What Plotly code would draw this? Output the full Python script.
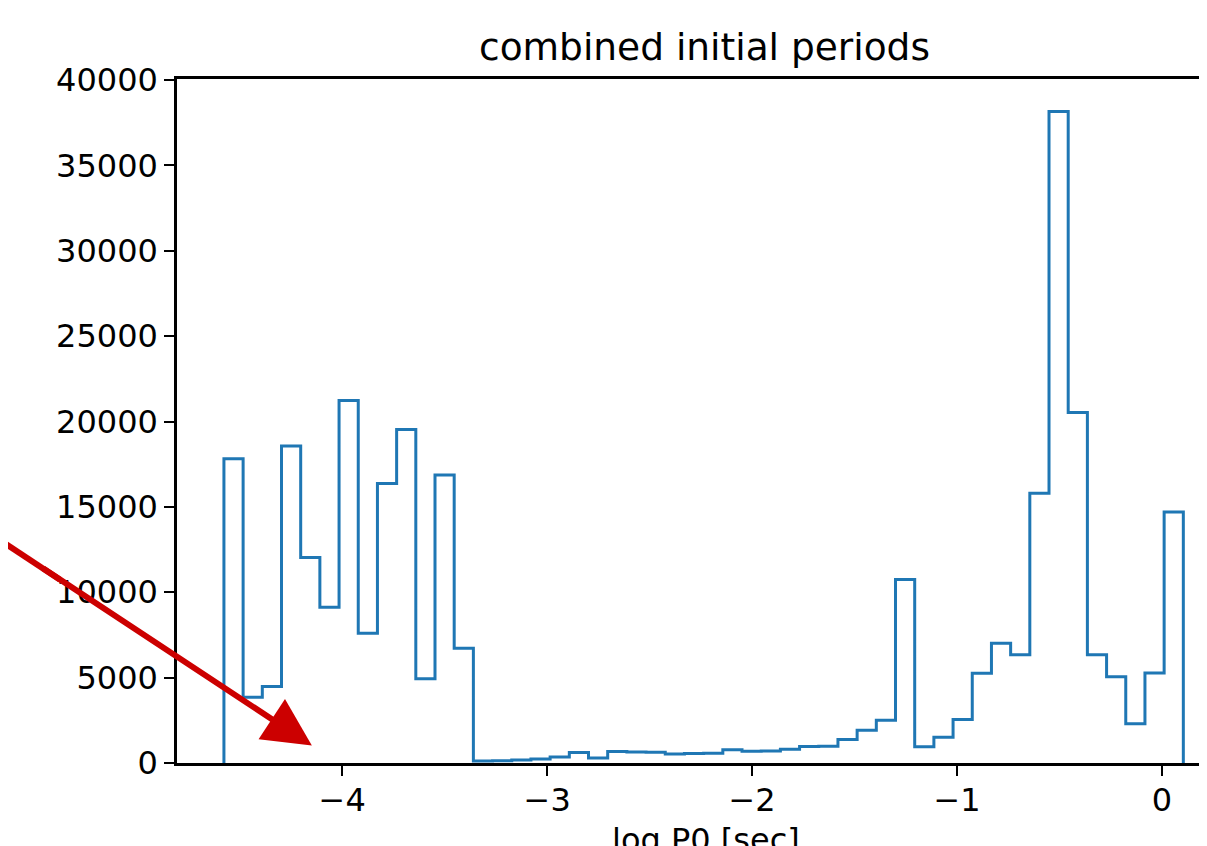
import numpy as np
import plotly.graph_objects as go

# ---- data ----
hist_lo = -4.577
hist_hi = 0.104
counts = [17820, 3850, 4480, 18560, 12040, 9120, 21230, 7600, 16370, 19530, 4930, 16870, 6720,
          120, 130, 170, 235, 350, 620, 290, 670, 640, 630, 530, 550, 575, 770, 685, 710, 800,
          970, 980, 1380, 1920, 2500,
          10745, 950, 1515, 2545, 5255, 7010, 6340, 15800, 38150, 20520, 6340, 5050, 2300, 5270, 14700]
x_ticks = [-4, -3, -2, -1, 0]
y_ticks = [0, 5000, 10000, 15000, 20000, 25000, 30000, 35000, 40000]
title_text = "combined initial periods"
xlabel_text = "log P0 [sec]"

edges = np.linspace(hist_lo, hist_hi, len(counts) + 1)

# step outline (matplotlib histtype='step')
sx, sy = [edges[0]], [0]
for i, c in enumerate(counts):
    sx += [edges[i], edges[i + 1]]
    sy += [c, c]
sx.append(edges[-1]); sy.append(0)

FONT = "DejaVu Sans"
fig = go.Figure()
fig.add_trace(go.Scatter(x=sx, y=sy, mode="lines",
                         line=dict(color="#1f77b4", width=3),
                         hoverinfo="skip", showlegend=False))

OFF = 8  # page body margin
W, H = 1207 - OFF, 846 - OFF
L, T = 177 - OFF, 79 - OFF
PB = 763.5 - OFF          # plot bottom in figure px
B = H - PB
plot_w = W - L
plot_h = PB - T


def px_to_paper(px, py):
    """page pixel -> paper coords"""
    return ((px - OFF) - L) / plot_w, (PB - (py - OFF)) / plot_h


fig.update_layout(
    width=W, height=H,
    margin=dict(l=L, r=0, t=T, b=B, pad=0),
    plot_bgcolor="white", paper_bgcolor="white",
    font=dict(family=FONT, size=32, color="black"),
    xaxis=dict(range=[-4.806, 0.2195], tickvals=x_ticks,
               ticks="outside", ticklen=10, tickwidth=2, tickcolor="black",
               showline=True, linecolor="black", linewidth=2.5, mirror=True,
               showgrid=False, zeroline=False, ticklabelstandoff=-3),
    yaxis=dict(range=[0, 40058], tickvals=y_ticks, tickformat="d",
               ticks="outside", ticklen=10, tickwidth=2, tickcolor="black",
               showline=True, linecolor="black", linewidth=2.5,
               showgrid=False, zeroline=False, ticklabelstandoff=0),
    title=dict(text=title_text, font=dict(size=37.5, family=FONT),
               x=(704.5 - OFF - L) / plot_w, xref="paper", xanchor="center",
               y=1, yref="paper", yanchor="bottom", pad=dict(b=19)),
)

fig.add_annotation(text=xlabel_text, xref="paper", yref="paper",
                   x=(706 - OFF - L) / plot_w, y=-((820 - OFF) - PB) / plot_h,
                   xanchor="center", yanchor="top", showarrow=False,
                   font=dict(size=32, family=FONT))

# red arrow annotation: head via annotation, shaft continued off the left edge via a line shape
ARROW_RED = "#cc0000"
fig.add_annotation(x=-4.148, y=1020, xref="x", yref="y",
                   ax=-270, ay=-178, axref="pixel", ayref="pixel",
                   showarrow=True, arrowhead=2, arrowsize=1.6, arrowwidth=6,
                   arrowcolor=ARROW_RED, text="")
x0, y0 = px_to_paper(-40, 514)
x1, y1 = px_to_paper(60, 580)
fig.add_shape(type="line", xref="paper", yref="paper", x0=x0, y0=y0, x1=x1, y1=y1,
              line=dict(color=ARROW_RED, width=6), layer="above")

fig.write_html("out.html")
